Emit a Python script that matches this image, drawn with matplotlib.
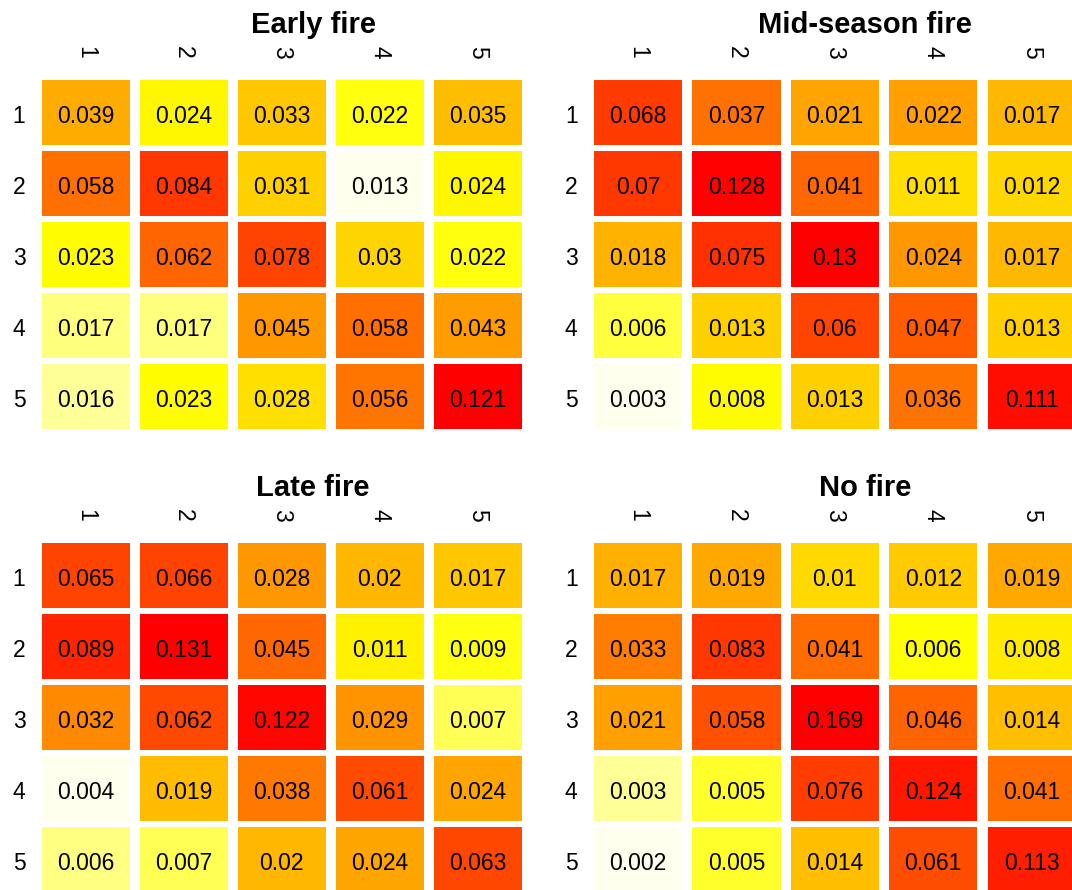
#!/usr/bin/env python3
"""Four 5x5 transition heatmaps (fire season), heat colours on a log scale per panel."""
import numpy as np
import matplotlib

matplotlib.use("Agg")
import matplotlib.pyplot as plt  # noqa: E402
from matplotlib.colors import LinearSegmentedColormap, LogNorm  # noqa: E402
from matplotlib.patches import Rectangle  # noqa: E402

plt.rcParams["font.family"] = ["Liberation Sans", "DejaVu Sans"]

LABELS = ["1", "2", "3", "4", "5"]
TITLES = ["Early fire", "Mid-season fire", "Late fire", "No fire"]

early = [
    [0.039, 0.024, 0.033, 0.022, 0.035],
    [0.058, 0.084, 0.031, 0.013, 0.024],
    [0.023, 0.062, 0.078, 0.030, 0.022],
    [0.017, 0.017, 0.045, 0.058, 0.043],
    [0.016, 0.023, 0.028, 0.056, 0.121],
]
mid = [
    [0.068, 0.037, 0.021, 0.022, 0.017],
    [0.070, 0.128, 0.041, 0.011, 0.012],
    [0.018, 0.075, 0.130, 0.024, 0.017],
    [0.006, 0.013, 0.060, 0.047, 0.013],
    [0.003, 0.008, 0.013, 0.036, 0.111],
]
late = [
    [0.065, 0.066, 0.028, 0.020, 0.017],
    [0.089, 0.131, 0.045, 0.011, 0.009],
    [0.032, 0.062, 0.122, 0.029, 0.007],
    [0.004, 0.019, 0.038, 0.061, 0.024],
    [0.006, 0.007, 0.020, 0.024, 0.063],
]
nofire = [
    [0.017, 0.019, 0.010, 0.012, 0.019],
    [0.033, 0.083, 0.041, 0.006, 0.008],
    [0.021, 0.058, 0.169, 0.046, 0.014],
    [0.003, 0.005, 0.076, 0.124, 0.041],
    [0.002, 0.005, 0.014, 0.061, 0.113],
]
PANELS = [early, mid, late, nofire]

# reversed R heat.colors: pale -> yellow -> red
HEAT = LinearSegmentedColormap.from_list(
    "heat_r", [(0.0, (1, 1, 0.93)), (0.25, (1, 1, 0)), (1.0, (1, 0, 0))])

W, H = 1072, 890
# axes boxes in pixels: left, top, width, height
BOX = [(36.7, 77, 490, 355), (588.9, 77, 492, 355),
       (36.7, 540, 490, 355), (588.9, 540, 492, 355)]
CW, CH = 0.898, 0.915  # cell size in data units (gaps between)


def panel(fig, box, vals, title):
    l, t, w, h = box
    ax = fig.add_axes([l / W, 1 - (t + h) / H, w / W, h / H])
    ax.set_xlim(0.5, 5.5); ax.set_ylim(5.5, 0.5); ax.axis("off")
    v = np.array(vals)
    norm = LogNorm(v.min(), v.max())
    px, py = w / 5, h / 5
    dy = 4 / py  # text sits a touch below cell centre
    for r in range(5):
        for c in range(5):
            x, y = c + 1, r + 1
            ax.add_patch(Rectangle((x - CW / 2, y - CH / 2), CW, CH,
                                   facecolor=HEAT(norm(v[r, c])), edgecolor="none", clip_on=False))
            ax.text(x, y + dy, f"{v[r, c]:g}", ha="center", va="center", fontsize=16.5, color="black")
    for i, lab in enumerate(LABELS):
        ax.text(i + 1, 0.5 - 25 / py, lab, rotation=-90, ha="center", va="center",
                fontsize=16.5, clip_on=False)
        ax.text(0.5 - 17.7 / px, i + 1 + dy, lab, ha="center", va="center", fontsize=16.5, clip_on=False)
    ax.text(0.5 + 276.5 / px, 0.5 - 44 / py, title, ha="center", va="baseline",
            fontsize=21, fontweight="bold", clip_on=False)


def main():
    fig = plt.figure(figsize=(W / 100, H / 100), dpi=100, facecolor="white")
    for box, vals, title in zip(BOX, PANELS, TITLES):
        panel(fig, box, vals, title)
    fig.savefig("out.png", dpi=100, facecolor="white")
    plt.close(fig)


if __name__ == "__main__":
    main()
